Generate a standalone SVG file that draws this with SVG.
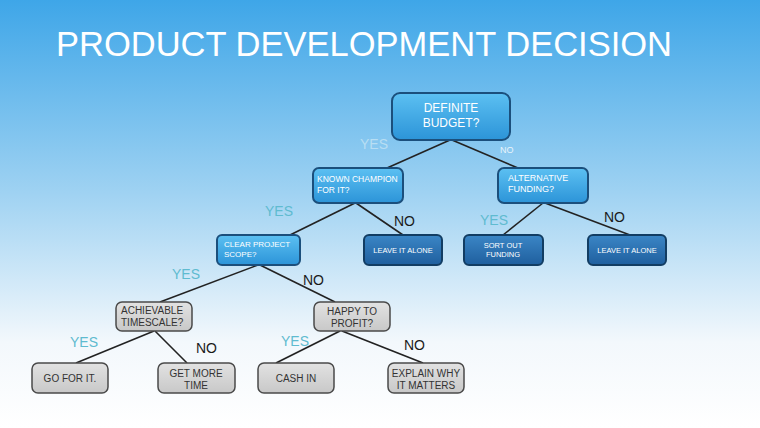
<svg xmlns="http://www.w3.org/2000/svg" width="760" height="428" viewBox="0 0 760 428">
<defs>
<linearGradient id="bg" x1="0" y1="0" x2="0" y2="1"><stop offset="0" stop-color="#3ea6e8"/><stop offset="0.45" stop-color="#9fd2f2"/><stop offset="0.8" stop-color="#f3f8fc"/><stop offset="1" stop-color="#ffffff"/></linearGradient>
<linearGradient id="lb" x1="0" y1="0" x2="0" y2="1"><stop offset="0" stop-color="#5cc0f2"/><stop offset="1" stop-color="#2c94d8"/></linearGradient>
<linearGradient id="db" x1="0" y1="0" x2="0" y2="1"><stop offset="0" stop-color="#3b86c6"/><stop offset="1" stop-color="#1f5f9e"/></linearGradient>
<linearGradient id="gr" x1="0" y1="0" x2="0" y2="1"><stop offset="0" stop-color="#e2e2e2"/><stop offset="1" stop-color="#c8c8c8"/></linearGradient>
</defs>
<style>
.lb{fill:url(#lb);stroke:#1b4f7c;stroke-width:2}
.db{fill:url(#db);stroke:#123d63;stroke-width:2}
.gr{fill:url(#gr);stroke:#4a4a4a;stroke-width:1.5}
text{font-family:"Liberation Sans",Arial,sans-serif}
.w{fill:#fff;font-size:10px}
.g{fill:#333;font-size:10px}
.yes{fill:#5fbbd0;font-size:14px}
.no{fill:#1a1a1a;font-size:14px}
.c line{stroke:#222;stroke-width:1.6}
</style>
<rect width="760" height="428" fill="url(#bg)"/>
<text x="56" y="56" fill="#fff" style="font-size:34.5px">PRODUCT DEVELOPMENT DECISION</text>
<g class="c" id="connectors">
<line x1="450" y1="140" x2="387" y2="168"/><line x1="452" y1="140" x2="518" y2="168"/>
<line x1="355" y1="203" x2="290" y2="235"/><line x1="356" y1="203" x2="403" y2="235"/>
<line x1="543" y1="203" x2="503" y2="235"/><line x1="545" y1="203" x2="630" y2="235"/>
<line x1="258" y1="265" x2="160" y2="302"/><line x1="260" y1="265" x2="335" y2="302"/>
<line x1="154" y1="331" x2="76" y2="363"/><line x1="155" y1="331" x2="187" y2="363"/>
<line x1="340" y1="331" x2="276" y2="363"/><line x1="342" y1="331" x2="423" y2="363"/>
</g>
<g id="labels">
<text x="360" y="149" style="fill:#b8def3;font-size:14px">YES</text>
<text x="500" y="153" style="fill:#e8f4fb;font-size:9px">NO</text>
<text class="yes" x="265" y="216">YES</text><text class="no" x="394" y="226">NO</text>
<text class="yes" x="480" y="225">YES</text><text class="no" x="604" y="222">NO</text>
<text class="yes" x="172" y="279">YES</text><text class="no" x="303" y="285">NO</text>
<text class="yes" x="70" y="347">YES</text><text class="no" x="196" y="353">NO</text>
<text class="yes" x="281" y="346">YES</text><text class="no" x="404" y="350">NO</text>
</g>
<g id="n1"><rect class="lb" x="392" y="93" width="118" height="47" rx="8"/><text class="w" x="451" y="112" text-anchor="middle" style="font-size:12px">DEFINITE</text><text class="w" x="451" y="127" text-anchor="middle" style="font-size:12px">BUDGET?</text></g>
<g id="n2"><rect class="lb" x="313" y="168" width="90" height="35" rx="6"/><text class="w" x="317" y="182" style="font-size:8.5px">KNOWN CHAMPION</text><text class="w" x="317" y="193" style="font-size:8.5px">FOR IT?</text></g>
<g id="n3"><rect class="lb" x="498" y="168" width="90" height="35" rx="6"/><text class="w" x="508" y="181" style="font-size:9px">ALTERNATIVE</text><text class="w" x="508" y="192" style="font-size:9px">FUNDING?</text></g>
<g id="n4"><rect class="lb" x="217" y="235" width="83" height="30" rx="5"/><text class="w" x="224" y="247" style="font-size:8px">CLEAR PROJECT</text><text class="w" x="224" y="257" style="font-size:8px">SCOPE?</text></g>
<g id="n5"><rect class="db" x="364" y="235" width="78" height="30" rx="5"/><text class="w" x="403" y="253" text-anchor="middle" style="font-size:7.5px">LEAVE IT ALONE</text></g>
<g id="n6"><rect class="db" x="464" y="235" width="79" height="30" rx="5"/><text class="w" x="503" y="248" text-anchor="middle" style="font-size:7.5px">SORT OUT</text><text class="w" x="503" y="257" text-anchor="middle" style="font-size:7.5px">FUNDING</text></g>
<g id="n7"><rect class="db" x="588" y="235" width="78" height="30" rx="5"/><text class="w" x="627" y="253" text-anchor="middle" style="font-size:7.5px">LEAVE IT ALONE</text></g>
<g id="n8"><rect class="gr" x="116" y="302" width="76" height="29" rx="6"/><text class="g" x="121" y="314">ACHIEVABLE</text><text class="g" x="121" y="326">TIMESCALE?</text></g>
<g id="n9"><rect class="gr" x="314" y="302" width="76" height="29" rx="6"/><text class="g" x="352" y="315" text-anchor="middle">HAPPY TO</text><text class="g" x="352" y="327" text-anchor="middle">PROFIT?</text></g>
<g id="n10"><rect class="gr" x="32" y="363" width="76" height="30" rx="6"/><text class="g" x="70" y="382" text-anchor="middle">GO FOR IT.</text></g>
<g id="n11"><rect class="gr" x="158" y="363" width="77" height="30" rx="6"/><text class="g" x="196" y="377" text-anchor="middle">GET MORE</text><text class="g" x="196" y="389" text-anchor="middle">TIME</text></g>
<g id="n12"><rect class="gr" x="258" y="363" width="76" height="30" rx="6"/><text class="g" x="296" y="382" text-anchor="middle">CASH IN</text></g>
<g id="n13"><rect class="gr" x="388" y="363" width="76" height="30" rx="6"/><text class="g" x="426" y="377" text-anchor="middle">EXPLAIN WHY</text><text class="g" x="426" y="389" text-anchor="middle">IT MATTERS</text></g>
</svg>
